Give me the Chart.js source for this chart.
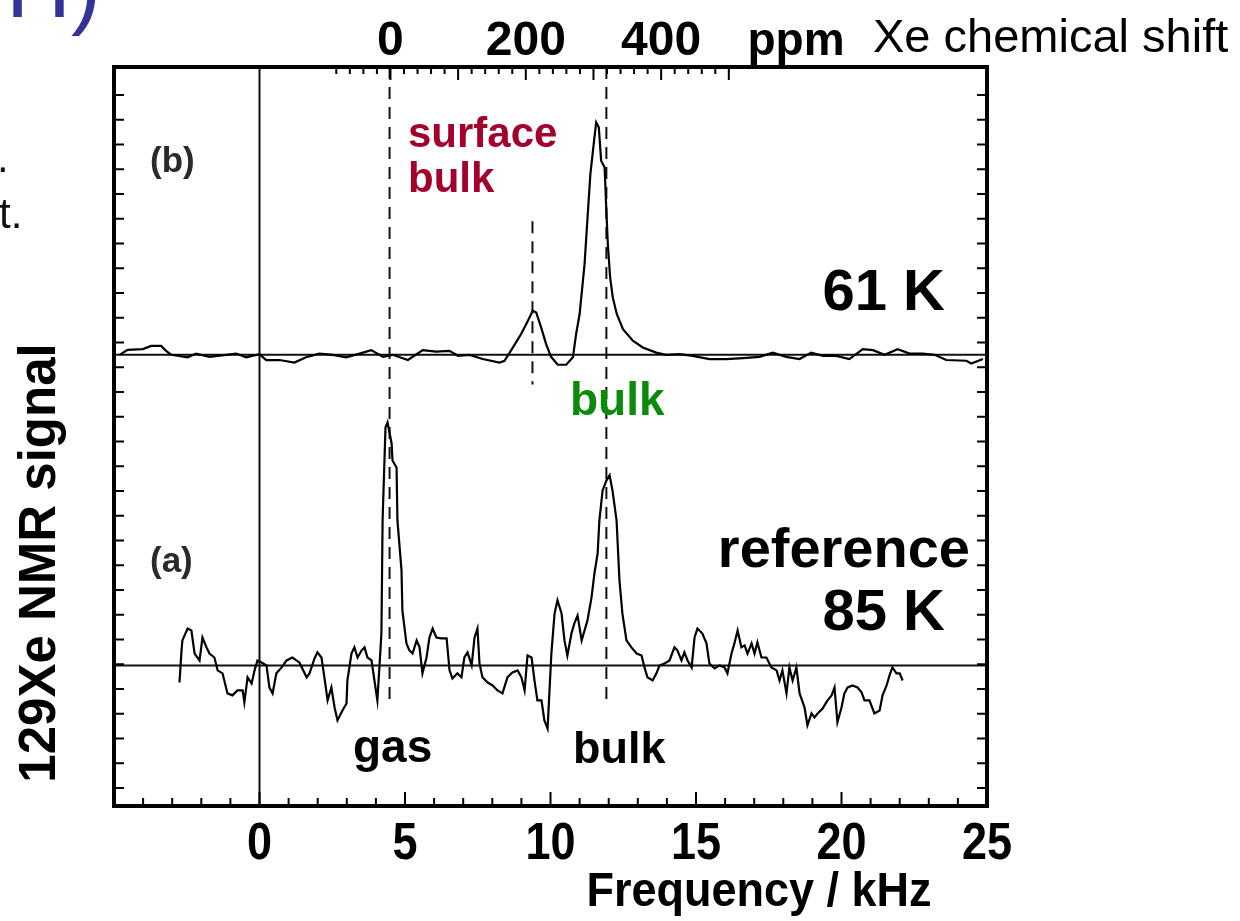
<!DOCTYPE html>
<html>
<head>
<meta charset="utf-8">
<script src="https://cdn.jsdelivr.net/npm/chart.js@4.4.0/dist/chart.umd.min.js"></script>
<style>
  html, body { margin: 0; padding: 0; background: #fff; }
  canvas { display: block; }
</style>
</head>
<body>
<canvas id="nmr" width="1240" height="921"></canvas>
<script>
// spectrum (a): reference, 85 K  (kHz, signal above its own baseline)
const freqA = [-2.75, -2.68, -2.65, -2.47, -2.34, -2.23, -2.06, -1.96, -1.82, -1.72, -1.55, -1.44, -1.27, -1.1, -0.93, -0.76, -0.58, -0.52, -0.41, -0.27, -0.17, -0.07,
  0.07, 0.24, 0.34, 0.45, 0.58, 0.76, 0.93, 1.13, 1.37, 1.62, 1.72, 1.89, 1.99, 2.13, 2.23, 2.34, 2.47, 2.58, 2.68, 2.85, 2.99, 3.02, 3.16, 3.26, 3.37, 3.51, 3.61, 3.71, 3.85, 3.95,
  4.05, 4.12, 4.19, 4.23, 4.33, 4.4, 4.54, 4.57, 4.71, 4.74, 4.88, 4.91, 5.05, 5.15, 5.26, 5.4, 5.5, 5.6, 5.74, 5.84, 5.95, 6.08, 6.25, 6.43, 6.53, 6.63, 6.8, 6.94,
  7.04, 7.15, 7.29, 7.39, 7.49, 7.56, 7.66, 7.84, 8.01, 8.18, 8.35, 8.52, 8.69, 8.87, 9.0, 9.11, 9.21, 9.35, 9.45, 9.55, 9.69, 9.79, 9.9,
  10.03, 10.14, 10.24, 10.38, 10.48, 10.58, 10.72, 10.82, 10.93, 11.07, 11.17, 11.27, 11.41, 11.51, 11.62, 11.68, 11.79, 11.92,
  12.03, 12.13, 12.27, 12.37, 12.47, 12.61, 12.78, 12.96, 13.13, 13.23, 13.33, 13.51, 13.64, 13.75, 13.92, 14.09, 14.26, 14.36, 14.5, 14.6, 14.71, 14.85, 14.95,
  15.05, 15.22, 15.36, 15.46, 15.64, 15.81, 15.98, 16.08, 16.22, 16.32, 16.43, 16.56, 16.67, 16.77, 16.91, 17.01, 17.11, 17.25, 17.42, 17.59, 17.77, 17.87, 17.97,
  18.11, 18.21, 18.32, 18.45, 18.56, 18.73, 18.83, 18.97, 19.07, 19.18, 19.35, 19.52, 19.66, 19.76, 19.86, 20.0, 20.1, 20.21, 20.38, 20.55, 20.69, 20.79, 20.96,
  21.13, 21.31, 21.41, 21.55, 21.65, 21.75, 21.89, 22.0, 22.1];
const sigA = [-0.69, 0.6, 1.01, 1.49, 1.41, 0.48, 0.2, 1.13, 0.73, 0.48, 0.32, -0.2, -0.32, -1.13, -1.21, -1.01, -1.01, -1.49, -0.48, -0.73, -0.2, 0.2,
  0.12, 0, -0.89, -1.13, -0.32, -0.08, 0.2, 0.32, 0.12, -0.48, -0.32, 0.28, 0.53, 0.32, -0.48, -1.41, -0.89, -1.7, -2.22, -1.82, -1.54, -0.61, 0.48, 0.73, 0.32, 0.61, 0.73, 0.32, 0.2, -0.61,
  -1.41, -0.08, 1.29, 5.86, 9.62, 9.82, 8.97, 8.28, 8.0, 5.86, 3.84, 2.22, 0.89, 0.61, 0.48, 1.01, 0.73, -0.32, 0.32, 1.13, 1.49, 1.13, 1.09, 1.09, -0.2, -0.53, -0.32, -0.48,
  0.32, 0.53, 0, 1.13, 1.49, 0.08, -0.48, -0.69, -0.81, -1.01, -1.13, -0.48, -0.28, -0.2, -0.48, -1.01, 0.4, 0.32, -0.61, -1.41, -1.41, -2.22, -2.55,
  0.48, 2.1, 2.63, 2.1, 1.01, 0.4, 1.29, 1.7, 2.02, 1.01, 1.41, 1.82, 2.75, 3.72, 4.53, 5.86, 7.07, 7.47,
  7.68, 7.07, 5.86, 3.43, 2.1, 1.01, 0.73, 0.48, 0.4, -0.08, -0.48, -0.61, -0.32, 0, 0.08, 0.2, 0.73, 0.61, 0.2, 0.53, 0.2, -0.08, 1.13,
  1.49, 1.29, 0.89, 0.08, -0.12, 0, -0.08, -0.32, 0.48, 0.89, 1.41, 0.73, 0.81, 0.48, 0.89, 0.48, 0.93, 0.32, 0.32, -0.08, -0.2, -0.61, -0.2,
  -1.13, -0.08, -0.61, -0.08, -1.13, -1.7, -2.42, -1.94, -2.1, -1.94, -1.74, -1.41, -1.21, -0.89, -2.3, -1.7, -1.13, -0.89, -0.81, -0.89, -1.09, -1.41, -1.41,
  -1.94, -1.82, -1.21, -0.81, -0.4, -0.08, -0.32, -0.32, -0.61];

// spectrum (b): 61 K
const freqB = [-4.81, -4.53, -4.01, -3.72, -3.38, -3.21, -3.03, -2.47, -2.18, -1.72, -1.14, -0.8, -0.46, 0, 0.23, 0.69, 1.2, 1.6, 2.06, 2.52, 2.98, 3.44, 3.84, 4.24, 4.58,
  5.1, 5.61, 6.07, 6.53, 6.82, 7.22, 7.67, 8.25, 8.42, 8.71, 8.99, 9.22, 9.39, 9.51, 9.68, 9.85, 10.02, 10.25, 10.54, 10.77, 10.88,
  11.0, 11.17, 11.28, 11.37, 11.51, 11.57, 11.66, 11.74, 11.86, 11.91, 11.97, 12.05, 12.14, 12.28, 12.49, 12.83, 13.17, 13.63, 13.97, 14.43, 14.89,
  15.46, 16.04, 16.61, 17.18, 17.64, 18.1, 18.56, 18.96, 19.36, 19.82, 20.27, 20.73, 21.08, 21.48, 21.93, 22.34, 22.79, 23.2, 23.6, 24.29, 24.46, 24.86];
const sigB = [0, 0.2, 0.23, 0.36, 0.36, 0.16, 0, -0.1, 0.05, -0.08, 0, 0.05, -0.1, 0.03, -0.21, -0.21, -0.31, -0.1, 0.05, 0, -0.1, 0.05, 0.19, -0.08, 0,
  -0.21, 0.19, 0.13, 0.16, -0.04, 0, -0.17, -0.31, -0.24, 0.3, 0.84, 1.37, 1.78, 1.71, 1.1, 0.43, -0.08, -0.4, -0.4, -0.1, 0.84,
  1.64, 3.66, 5.68, 7.3, 8.79, 9.39, 9.19, 7.84, 7.57, 6.09, 4.47, 3.12, 2.32, 1.64, 1.04, 0.57, 0.3, 0.09, 0, 0.03, -0.04,
  -0.17, -0.17, -0.13, -0.08, 0.09, -0.08, -0.17, 0.09, -0.04, -0.04, -0.17, 0.23, 0.19, 0, 0.23, 0.05, 0.05, 0, -0.21, -0.24, -0.35, -0.17];

// vertical offsets of the two stacked spectra
const baseA = 4.95;
const baseB = 17.5;

// dashed guide lines: [kHz, from, to] in signal units
const guides = [[4.47, 3.55, 29.13], [9.38, 16.3, 22.9], [11.92, 3.55, 29.13]];

const freqLabels = [0, 5, 10, 15, 20, 25];
const ppmLabels = [0, 200, 400];
const ppmZero = 4.5;     // kHz at 0 ppm
const ppmPerKHz = 43;

const sans = '"Liberation Sans", Arial, sans-serif';

function pts(xs, ys, off) {
  return xs.map((x, i) => ({ x: x, y: ys[i] + off }));
}

function txt(ctx, s, x, y, font, color, align, sy) {
  ctx.save();
  ctx.font = font;
  ctx.fillStyle = color;
  ctx.textAlign = align || 'left';
  ctx.textBaseline = 'alphabetic';
  ctx.translate(x, y);
  if (sy) ctx.scale(1, sy);
  ctx.fillText(s, 0, 0);
  ctx.restore();
}

const underlay = {
  id: 'underlay',
  beforeDatasetsDraw(chart) {
    const ctx = chart.ctx, a = chart.chartArea;
    const xs = chart.scales.x, ys = chart.scales.y;
    ctx.save();
    ctx.strokeStyle = '#111';
    ctx.lineWidth = 2;
    // baselines
    [baseA, baseB].forEach(b => {
      const y = ys.getPixelForValue(b);
      ctx.beginPath(); ctx.moveTo(a.left, y); ctx.lineTo(a.right, y); ctx.stroke();
    });
    // zero frequency
    const x0 = xs.getPixelForValue(0);
    ctx.beginPath(); ctx.moveTo(x0, a.top); ctx.lineTo(x0, a.bottom); ctx.stroke();
    // dashed peak markers
    ctx.setLineDash([12, 8]);
    guides.forEach(g => {
      const x = xs.getPixelForValue(g[0]);
      ctx.beginPath();
      ctx.moveTo(x, ys.getPixelForValue(g[2]));
      ctx.lineTo(x, ys.getPixelForValue(g[1]));
      ctx.stroke();
    });
    ctx.restore();
  }
};

const frame = {
  id: 'frame',
  afterDraw(chart) {
    const ctx = chart.ctx, a = chart.chartArea;
    const xs = chart.scales.x, ys = chart.scales.y, ps = chart.scales.ppm;
    ctx.save();
    ctx.strokeStyle = '#000';
    ctx.lineWidth = 4;
    ctx.strokeRect(a.left, a.top, a.right - a.left, a.bottom - a.top);

    ctx.lineWidth = 2;
    ctx.beginPath();
    // left / right ticks
    for (let v = 0; v <= 28; v++) {
      const y = ys.getPixelForValue(v);
      ctx.moveTo(a.left, y); ctx.lineTo(a.left + 10, y);
      ctx.moveTo(a.right, y); ctx.lineTo(a.right - 10, y);
    }
    // bottom kHz ticks
    for (let v = -4; v <= 24; v++) {
      const x = xs.getPixelForValue(v);
      const len = v % 5 === 0 ? 14 : 8;
      ctx.moveTo(x, a.bottom); ctx.lineTo(x, a.bottom - len);
    }
    // top ppm ticks
    for (let v = -80; v <= 500; v += 20) {
      const x = ps.getPixelForValue(v);
      const len = v % 100 === 0 ? 13 : 7;
      ctx.moveTo(x, a.top); ctx.lineTo(x, a.top + len);
    }
    ctx.stroke();
    ctx.restore();

    // axis labels
    freqLabels.forEach(v => {
      txt(ctx, String(v), xs.getPixelForValue(v), 859, 'bold 45px ' + sans, '#000', 'center', 1.15);
    });
    txt(ctx, 'Frequency / kHz', 759, 906, 'bold 45px ' + sans, '#000', 'center', 1.08);
    ppmLabels.forEach(v => {
      txt(ctx, String(v), ps.getPixelForValue(v), 55, 'bold 48px ' + sans, '#000', 'center');
    });
    txt(ctx, 'ppm', 796, 55, 'bold 46px ' + sans, '#000', 'center');
    txt(ctx, 'Xe chemical shift', 873, 52, '47px ' + sans, '#000', 'left');

    ctx.save();
    ctx.translate(55, 563);
    ctx.rotate(-Math.PI / 2);
    txt(ctx, '129Xe NMR signal', 0, 0, 'bold 51px ' + sans, '#000', 'center');
    ctx.restore();

    // panel annotations
    txt(ctx, '(b)', 150, 172, 'bold 35px ' + sans, '#2a2a2a', 'left');
    txt(ctx, '(a)', 150, 572, 'bold 35px ' + sans, '#2a2a2a', 'left');
    txt(ctx, 'surface', 408, 147, 'bold 42px ' + sans, '#a3002b', 'left');
    txt(ctx, 'bulk', 408, 192, 'bold 42px ' + sans, '#a3002b', 'left');
    txt(ctx, 'bulk', 570, 415, 'bold 46px ' + sans, '#0b8a0b', 'left');
    txt(ctx, '61 K', 945, 310, 'bold 58px ' + sans, '#000', 'right');
    txt(ctx, 'reference', 970, 567, 'bold 56px ' + sans, '#000', 'right');
    txt(ctx, '85 K', 945, 630, 'bold 58px ' + sans, '#000', 'right');
    txt(ctx, 'gas', 353, 762, 'bold 46px ' + sans, '#000', 'left');
    txt(ctx, 'bulk', 573, 763, 'bold 45px ' + sans, '#000', 'left');

    // slide fragments around the figure
    txt(ctx, 'H)', 6, 17, '90px ' + sans, '#333399', 'left');
    txt(ctx, '.', -3, 172, '42px ' + sans, '#111', 'left');
    txt(ctx, 't.', -1, 228, '42px ' + sans, '#111', 'left');
  }
};

new Chart(document.getElementById('nmr'), {
  type: 'line',
  data: {
    datasets: [{
      data: pts(freqA, sigA, baseA),
      borderColor: '#000',
      borderWidth: 2.2,
      pointRadius: 0,
      tension: 0
    }, {
      data: pts(freqB, sigB, baseB),
      borderColor: '#000',
      borderWidth: 2.2,
      pointRadius: 0,
      tension: 0
    }]
  },
  options: {
    responsive: false,
    animation: false,
    events: [],
    layout: { padding: { left: 114, top: 67, right: 253, bottom: 115 } },
    plugins: { legend: { display: false }, tooltip: { enabled: false } },
    scales: {
      x: { type: 'linear', min: -5, max: 25, display: false },
      ppm: {
        type: 'linear', axis: 'x', display: false,
        min: (-5 - ppmZero) * ppmPerKHz,
        max: (25 - ppmZero) * ppmPerKHz
      },
      y: { type: 'linear', min: -0.73, max: 29.13, display: false }
    }
  },
  plugins: [underlay, frame]
});
</script>
</body>
</html>
